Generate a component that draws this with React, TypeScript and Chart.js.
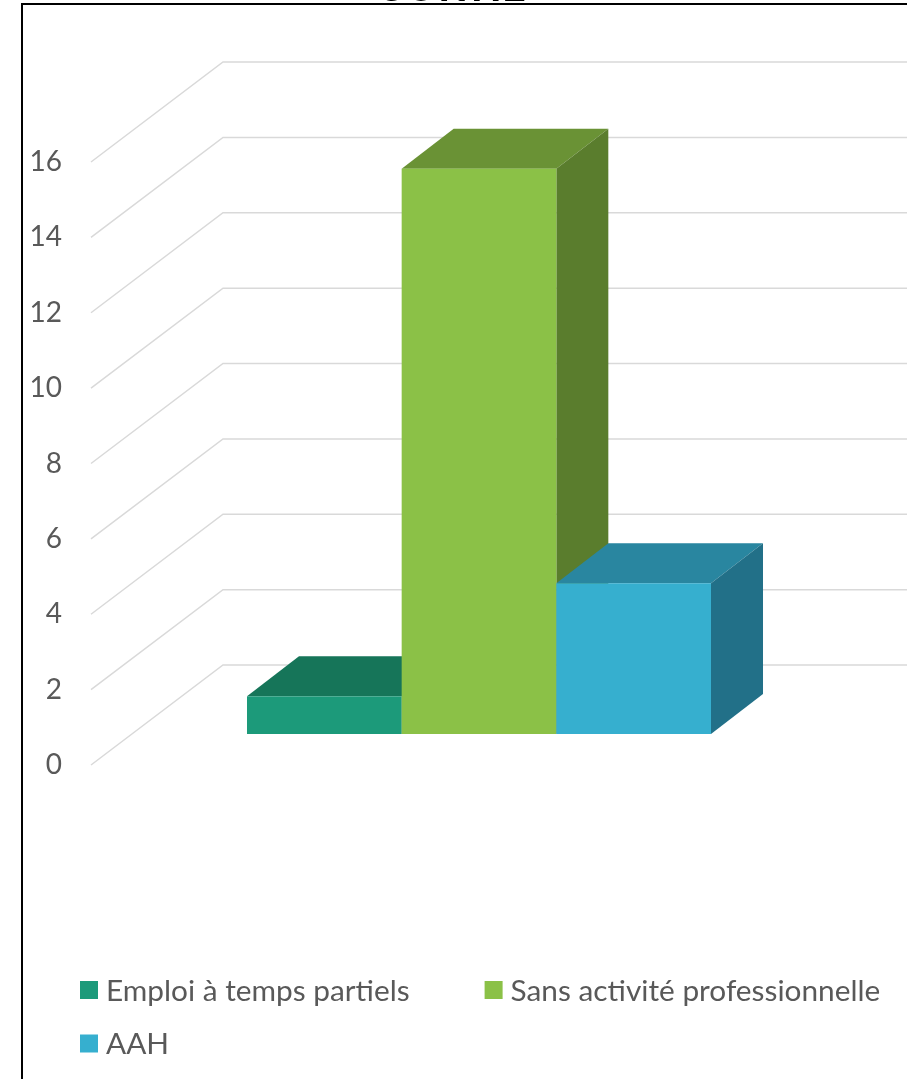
import React, { useEffect, useRef } from 'react';
import { Chart, registerables } from 'chart.js';

Chart.register(...registerables);

// ---- data ----
const categories = [''];
const seriesNames = ['Emploi à temps partiels', 'Sans activité professionnelle', 'AAH'];
const emploiValues = [1];
const sansActiviteValues = [15];
const aahValues = [4];
const yMin = 0;
const yMax = 16;
const yStep = 2;
const titleText = 'SORTIE';

// ---- styles ----
const frontColors = ['#1C9A7A', '#8BC147', '#36AFCF'];
const topColors = ['#167559', '#6A9235', '#2986A0'];
const sideColors = ['#135F4A', '#5A7D2D', '#227088'];
const gridColor = '#D9D9D9';
const textColor = '#595959';
const FONT = 'Lato';

// oblique projection constants (pixels)
const WALL_DX = 132;
const WALL_DY = 100;
const FRONT_DX = 41;
const FRONT_DY = 31;
const BAR_DX = 52;
const BAR_DY = 40;

const CANVAS_TOP = -38;
const CANVAS_W = 907;
const CANVAS_H = 1117;

function poly(ctx: CanvasRenderingContext2D, pts: number[][], color: string) {
  ctx.beginPath();
  ctx.moveTo(pts[0][0], pts[0][1]);
  for (let i = 1; i < pts.length; i++) ctx.lineTo(pts[i][0], pts[i][1]);
  ctx.closePath();
  ctx.fillStyle = color;
  ctx.fill();
}

const bars3d = {
  id: 'bars3d',
  beforeDatasetsDraw(chart: any) {
    const { ctx, chartArea } = chart;
    const yScale = chart.scales.y;
    ctx.save();
    // side wall + back wall gridlines
    ctx.strokeStyle = gridColor;
    ctx.lineWidth = 1.5;
    yScale.ticks.forEach((t: any) => {
      const py = yScale.getPixelForValue(t.value);
      ctx.beginPath();
      ctx.moveTo(chartArea.left, py);
      ctx.lineTo(chartArea.left + WALL_DX, py - WALL_DY);
      ctx.lineTo(chartArea.right + WALL_DX, py - WALL_DY);
      ctx.stroke();
    });
    // 3D boxes, left to right
    chart.data.datasets.forEach((_ds: any, i: number) => {
      const meta = chart.getDatasetMeta(i);
      meta.data.forEach((bar: any) => {
        const x0 = bar.x - bar.width / 2 + FRONT_DX;
        const x1 = bar.x + bar.width / 2 + FRONT_DX;
        const yTop = bar.y - FRONT_DY;
        const yBase = bar.base - FRONT_DY;
        poly(ctx, [[x0, yTop], [x0 + BAR_DX, yTop - BAR_DY], [x1 + BAR_DX, yTop - BAR_DY], [x1, yTop]], topColors[i]);
        poly(ctx, [[x1, yTop], [x1 + BAR_DX, yTop - BAR_DY], [x1 + BAR_DX, yBase - BAR_DY], [x1, yBase]], sideColors[i]);
        ctx.fillStyle = frontColors[i];
        ctx.fillRect(x0, yTop, x1 - x0, yBase - yTop);
      });
    });
    ctx.restore();
    return false;
  },
  afterDraw(chart: any) {
    const { ctx } = chart;
    ctx.save();
    ctx.font = `29.8px ${FONT}`;
    ctx.textBaseline = 'middle';
    ctx.textAlign = 'left';
    const startX = 80;
    const rowY0 = 990 - CANVAS_TOP;
    const rowH = 53.5;
    const box = 18;
    const textGap = 8;
    const itemGap = 75;
    const maxX = 900;
    let x = startX;
    let row = 0;
    chart.data.datasets.forEach((ds: any, i: number) => {
      const w = box + textGap + ctx.measureText(ds.label).width;
      if (x > startX && x + w > maxX) {
        row++;
        x = startX;
      }
      const cy = rowY0 + row * rowH;
      ctx.fillStyle = frontColors[i];
      ctx.fillRect(x, cy - box / 2, box, box);
      ctx.fillStyle = textColor;
      ctx.fillText(ds.label, x + box + textGap, cy + 1);
      x += w + itemGap;
    });
    ctx.restore();
  },
};

export default function App() {
  const ref = useRef<HTMLCanvasElement | null>(null);
  useEffect(() => {
    if (!ref.current) return;
    const values = [emploiValues, sansActiviteValues, aahValues];
    const chart = new Chart(ref.current, {
      type: 'bar',
      data: {
        labels: categories,
        datasets: seriesNames.map((name, i) => ({
          label: name,
          data: values[i],
          backgroundColor: frontColors[i],
          categoryPercentage: 0.6686,
          barPercentage: 1,
        })),
      },
      options: {
        responsive: false,
        animation: false,
        layout: { padding: { left: 0, right: 0, top: 0, bottom: 314 } },
        plugins: {
          legend: { display: false },
          tooltip: { enabled: false },
          title: {
            display: true,
            text: titleText,
            color: '#000000',
            font: { family: FONT, size: 42, weight: 'bold' },
            padding: { top: 0, bottom: 149.6 },
          },
        },
        scales: {
          x: { display: false },
          y: {
            min: yMin,
            max: yMax,
            ticks: {
              stepSize: yStep,
              padding: 29,
              color: textColor,
              font: { family: FONT, size: 28 },
            },
            grid: { display: false, drawTicks: false },
            border: { display: false },
            afterFit: (scale: any) => {
              scale.width = 91;
            },
          },
          depthSpace: {
            type: 'linear',
            position: 'right',
            display: true,
            ticks: { display: false },
            grid: { display: false, drawTicks: false },
            border: { display: false },
            afterFit: (scale: any) => {
              scale.width = 122;
            },
          },
        },
      },
      plugins: [bars3d],
    });
    return () => chart.destroy();
  }, []);

  return (
    <div style={{ position: 'absolute', left: 0, top: 0, width: 907, height: 1079, overflow: 'hidden', background: '#fff' }}>
      <canvas
        ref={ref}
        width={CANVAS_W}
        height={CANVAS_H}
        style={{ position: 'absolute', left: 0, top: CANVAS_TOP, width: CANVAS_W, height: CANVAS_H }}
      />
      <div
        style={{
          position: 'absolute',
          left: 21,
          top: 3,
          width: 1000,
          height: 1200,
          borderLeft: '2px solid #000',
          borderTop: '2px solid #000',
          pointerEvents: 'none',
        }}
      />
    </div>
  );
}
